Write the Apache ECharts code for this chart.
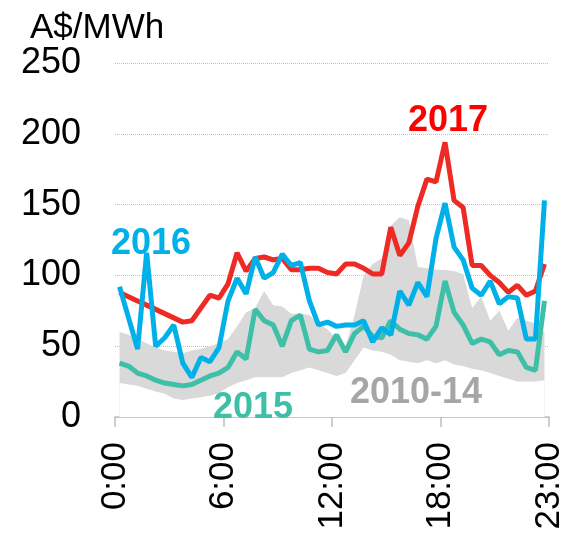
<!DOCTYPE html>
<html>
<head>
<meta charset="utf-8">
<script src="https://cdn.jsdelivr.net/npm/echarts@6/dist/echarts.min.js"></script>
<style>
  html, body { margin: 0; padding: 0; background: #fff; }
  #chart { width: 571px; height: 534px; }
</style>
</head>
<body>
<div id="chart"></div>
<script>
// half-hourly prices, A$/MWh, 48 slots from 0:00 to 23:30
const tickLabels = ['0:00', '6:00', '12:00', '18:00', '23:00'];

const price2016 = [92, 70, 48, 116, 50, 56, 65, 38, 28, 42, 39, 49,
  82, 98, 87, 113, 98, 102, 115, 107, 109, 82, 65, 67,
  64, 65, 65, 68, 53, 63, 58, 89, 79, 95, 85, 126,
  151, 120, 111, 91, 86, 96, 80, 85, 84, 55, 55, 153];

const price2017 = [88, 85, 82, 79, 76, 73, 70, 67, 68, 77, 86, 84,
  94, 116, 103, 112, 113, 111, 112, 104, 104, 105, 105, 102,
  101, 108, 108, 105, 101, 101, 134, 114, 123, 149, 168, 166,
  194, 153, 148, 107, 107, 100, 95, 88, 93, 86, 89, 108];

const price2015 = [38, 36, 31, 29, 26, 24, 23, 22, 23, 26, 29, 31,
  35, 46, 41, 76, 68, 65, 50, 68, 72, 48, 46, 47,
  58, 46, 59, 64, 57, 56, 68, 62, 59, 58, 55, 64,
  96, 74, 65, 52, 55, 53, 44, 47, 46, 35, 33, 82];

// 2010-14 range
const rangeLow = [24, 23, 22, 20, 18, 16.5, 13, 12, 13, 14, 15, 17,
  21, 24, 26, 28, 28, 28, 28, 31, 33, 35, 33, 31,
  29, 31, 40, 49, 47, 46, 44, 40, 39, 38, 40, 38,
  40, 37, 36, 34, 33, 31, 29, 27, 25, 25, 25, 26];

const rangeHigh = [60, 58, 55, 52, 49, 47, 46, 45, 47, 48, 50, 52,
  55, 64, 74, 77, 89, 79, 78, 73, 73, 72, 66, 62,
  55, 50, 72, 100, 108, 112, 135, 141, 139, 106, 105, 104,
  104, 103, 101, 77, 85, 68, 75, 61, 70, 68, 66, 60];

const font = "'Liberation Sans', Arial, sans-serif";

// points sit in the middle of each half-hour slot
const toPoints = (arr) => arr.map((v, i) => [i + 0.5, v]);

const chart = echarts.init(document.getElementById('chart'));

chart.setOption({
    backgroundColor: '#fff',
    animation: false,
    title: {
        text: 'A$/MWh',
        left: 25,
        top: 6,
        textStyle: { fontFamily: font, fontSize: 35, fontWeight: 'normal', color: '#000' }
    },
    grid: { left: 115, right: 22, top: 63, bottom: 117 },
    xAxis: {
        type: 'value',
        min: 0,
        max: 48,
        interval: 12,
        axisLine: { lineStyle: { color: '#bfbfbf', width: 1.5 } },
        axisTick: { show: true, length: 10, lineStyle: { color: '#bfbfbf', width: 1.5 } },
        splitLine: { show: false },
        axisLabel: {
            rotate: 90,
            margin: 25,
            showMinLabel: true,
            showMaxLabel: true,
            fontFamily: font,
            fontSize: 35,
            color: '#000',
            formatter: (value) => tickLabels[Math.round(value / 12)]
        }
    },
    yAxis: {
        type: 'value',
        min: 0,
        max: 250,
        interval: 50,
        axisLine: { show: false },
        axisTick: { show: false },
        splitLine: { lineStyle: { color: '#bfbfbf', type: 'dotted', width: 1 } },
        axisLabel: { margin: 34, fontFamily: font, fontSize: 36, color: '#000' }
    },
    series: [
        {
            // grey band: fill up to the high, then blank out below the low
            name: '2010-14',
            type: 'line',
            data: toPoints(rangeHigh),
            symbol: 'none',
            lineStyle: { width: 0, opacity: 0 },
            areaStyle: { color: '#d9d9d9', opacity: 1 },
            silent: true,
            z: 1
        },
        {
            name: 'low',
            type: 'line',
            data: toPoints(rangeLow),
            symbol: 'none',
            lineStyle: { width: 0, opacity: 0 },
            areaStyle: { color: '#ffffff', opacity: 1 },
            silent: true,
            z: 1
        },
        {
            name: '2015',
            type: 'line',
            data: toPoints(price2015),
            symbol: 'none',
            lineStyle: { color: '#3ebfa8', width: 5 },
            z: 3
        },
        {
            name: '2017',
            type: 'line',
            data: toPoints(price2017),
            symbol: 'none',
            lineStyle: { color: '#ee2a24', width: 5 },
            z: 3
        },
        {
            name: '2016',
            type: 'line',
            data: toPoints(price2016),
            symbol: 'none',
            lineStyle: { color: '#00b0e8', width: 5 },
            z: 3
        }
    ],
    graphic: [
        { type: 'text', left: 111, top: 226, z: 10, style: { text: '2016', fill: '#00b0e8', font: 'bold 36px ' + font } },
        { type: 'text', left: 408, top: 103, z: 10, style: { text: '2017', fill: '#ff0000', font: 'bold 36px ' + font } },
        { type: 'text', left: 213, top: 390, z: 10, style: { text: '2015', fill: '#3ebfa8', font: 'bold 36px ' + font } },
        { type: 'text', left: 350, top: 375, z: 10, style: { text: '2010-14', fill: '#a6a6a6', font: 'bold 36px ' + font } }
    ]
});
</script>
</body>
</html>
